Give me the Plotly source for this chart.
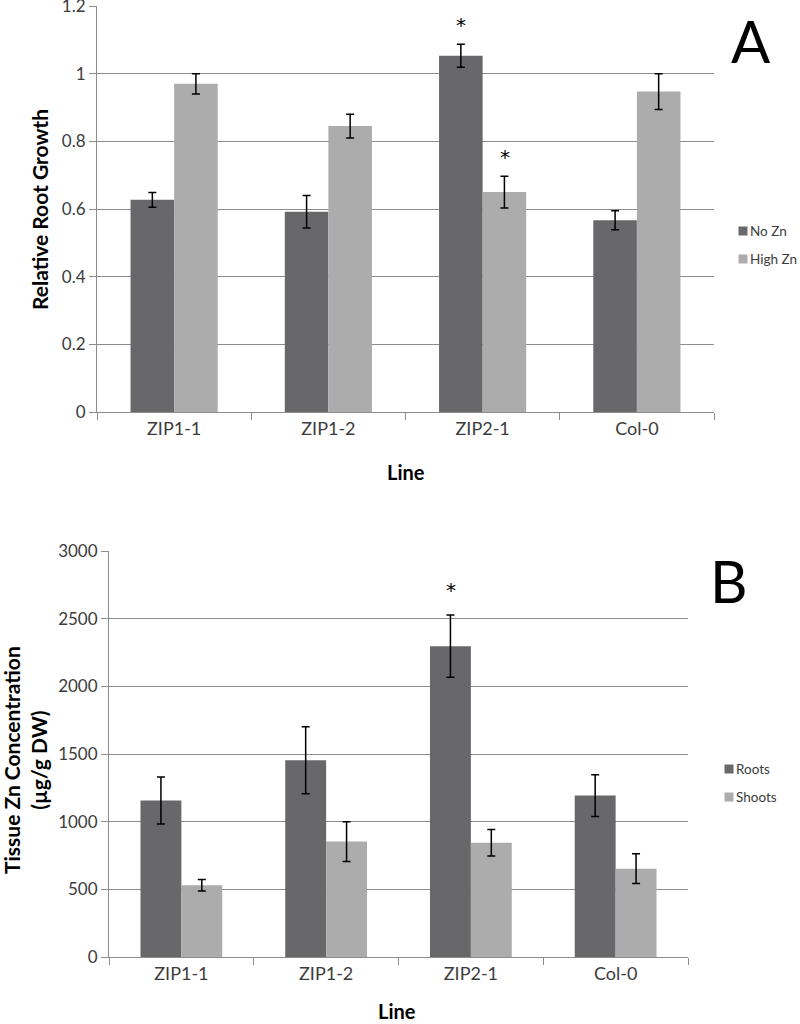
import plotly.graph_objects as go

# ---------- data ----------
lines = ["ZIP1-1", "ZIP1-2", "ZIP2-1", "Col-0"]

# Panel A: relative root growth
series_a = ["No Zn", "High Zn"]
no_zn = [0.627, 0.592, 1.053, 0.567]
no_zn_err = [0.022, 0.048, 0.034, 0.028]
high_zn = [0.970, 0.845, 0.650, 0.947]
high_zn_err = [0.030, 0.035, 0.047, 0.053]

# Panel B: tissue Zn concentration
series_b = ["Roots", "Shoots"]
roots = [1156, 1454, 2297, 1193]
roots_err = [174, 247, 230, 154]
shoots = [530, 853, 845, 653]
shoots_err = [43, 147, 98, 110]

# significance marks: (category, series index 0/1, y value)
sig_a = [("ZIP2-1", 0, 1.156), ("ZIP2-1", 1, 0.766)]
sig_b = [("ZIP2-1", 0, 2738)]

DARK = "#68686a"
LIGHT = "#acacad"
GRID = "#8c8c8c"
TXT = "#3c3c3c"
FONT = "Lato"

W, H = 800, 1024


def px_x(p):
    return p / W


def px_y(p):
    return 1 - p / H


fig = go.Figure()

err_style = dict(type="data", color="black", thickness=1.5, width=4, visible=True)

fig.add_trace(go.Bar(x=lines, y=no_zn, name=series_a[0], marker_color=DARK,
                     error_y=dict(array=no_zn_err, **err_style),
                     xaxis="x", yaxis="y", showlegend=False))
fig.add_trace(go.Bar(x=lines, y=high_zn, name=series_a[1], marker_color=LIGHT,
                     error_y=dict(array=high_zn_err, **err_style),
                     xaxis="x", yaxis="y", showlegend=False))
fig.add_trace(go.Bar(x=lines, y=roots, name=series_b[0], marker_color=DARK,
                     error_y=dict(array=roots_err, **err_style),
                     xaxis="x2", yaxis="y2", showlegend=False))
fig.add_trace(go.Bar(x=lines, y=shoots, name=series_b[1], marker_color=LIGHT,
                     error_y=dict(array=shoots_err, **err_style),
                     xaxis="x2", yaxis="y2", showlegend=False))

xax = dict(type="category", showline=True, linecolor=GRID, linewidth=1,
           ticks="outside", tickson="boundaries", ticklen=7, tickcolor=GRID,
           showgrid=False, automargin=False, ticklabeloverflow="allow",
           tickfont=dict(size=18, color=TXT, family=FONT))
yax = dict(showline=True, linecolor=GRID, linewidth=1, ticks="outside",
           ticklen=7, tickcolor=GRID, showgrid=True, gridcolor=GRID, gridwidth=1,
           zeroline=False, automargin=False, ticklabeloverflow="allow",
           tickfont=dict(size=17, color=TXT, family=FONT))

fig.update_layout(
    template="none",
    width=W, height=H,
    margin=dict(l=0, r=0, t=0, b=0, autoexpand=False),
    paper_bgcolor="white", plot_bgcolor="white",
    barmode="group", bargap=0.435, bargroupgap=0,
    showlegend=False,
    font=dict(family=FONT, color=TXT),
    xaxis=dict(domain=[px_x(97), px_x(714)], anchor="y", **xax),
    yaxis=dict(domain=[px_y(412), px_y(6)], anchor="x", range=[0, 1.2], dtick=0.2, **yax),
    xaxis2=dict(domain=[px_x(109), px_x(688)], anchor="y2", **xax),
    yaxis2=dict(domain=[px_y(957), px_y(551)], anchor="x2", range=[0, 3000], dtick=500,
                tickformat="d", **yax),
)

ann = []
shapes = []


def text_ann(text, x, y, size, angle=0, color="black", family=FONT, yanchor="middle"):
    ann.append(dict(text=text, x=px_x(x), y=px_y(y), xref="paper", yref="paper",
                    xanchor="center", yanchor=yanchor, textangle=angle, borderpad=0,
                    showarrow=False, font=dict(size=size, color=color, family=family)))


# axis titles
text_ann("<b>Relative Root Growth</b>", 39, 210, 21, angle=-90)
text_ann("<b>Line</b>", 406, 472, 20)
text_ann("<b>Tissue Zn Concentration<br>(µg/g DW)</b>", 25, 760, 21, angle=-90)
text_ann("<b>Line</b>", 397, 1024, 20, yanchor="bottom")
# panel letters
text_ann("A", 751, 40, 58)
text_ann("B", 729, 580, 58)


# legends (square swatch + label)
def add_legend(names, colors, sq_cx, text_x, ys, size):
    for name, col, yc in zip(names, colors, ys):
        shapes.append(dict(type="rect", xref="paper", yref="paper",
                           x0=px_x(sq_cx - size / 2), x1=px_x(sq_cx + size / 2),
                           y0=px_y(yc + size / 2), y1=px_y(yc - size / 2),
                           fillcolor=col, line=dict(width=0)))
        ann.append(dict(text=name, x=px_x(text_x), y=px_y(yc), xref="paper", yref="paper",
                        xanchor="left", yanchor="middle", showarrow=False, borderpad=0,
                        font=dict(size=13.5, color=TXT, family=FONT)))


add_legend(series_a, [DARK, LIGHT], 743, 749, [231, 259], 9)
add_legend(series_b, [DARK, LIGHT], 729, 735, [769, 797], 9)

# significance asterisks
for cat, s, yv in sig_a:
    ann.append(dict(text="*", x=cat, y=yv, xref="x", yref="y", showarrow=False,
                    xanchor="center", yanchor="middle",
                    yshift=-4, xshift=(-22 if s == 0 else 22),
                    font=dict(size=20, color="black", family="DejaVu Sans")))
for cat, s, yv in sig_b:
    ann.append(dict(text="*", x=cat, y=yv, xref="x2", yref="y2", showarrow=False,
                    xanchor="center", yanchor="middle",
                    yshift=-4, xshift=(-20 if s == 0 else 20),
                    font=dict(size=20, color="black", family="DejaVu Sans")))

fig.update_layout(annotations=ann, shapes=shapes)

# remove the default page margin so the 800x1024 figure fills the window exactly
fig.write_html("out.html",
               config={"displayModeBar": False},
               post_script="document.body.style.margin='0';document.body.style.overflow='hidden';")
